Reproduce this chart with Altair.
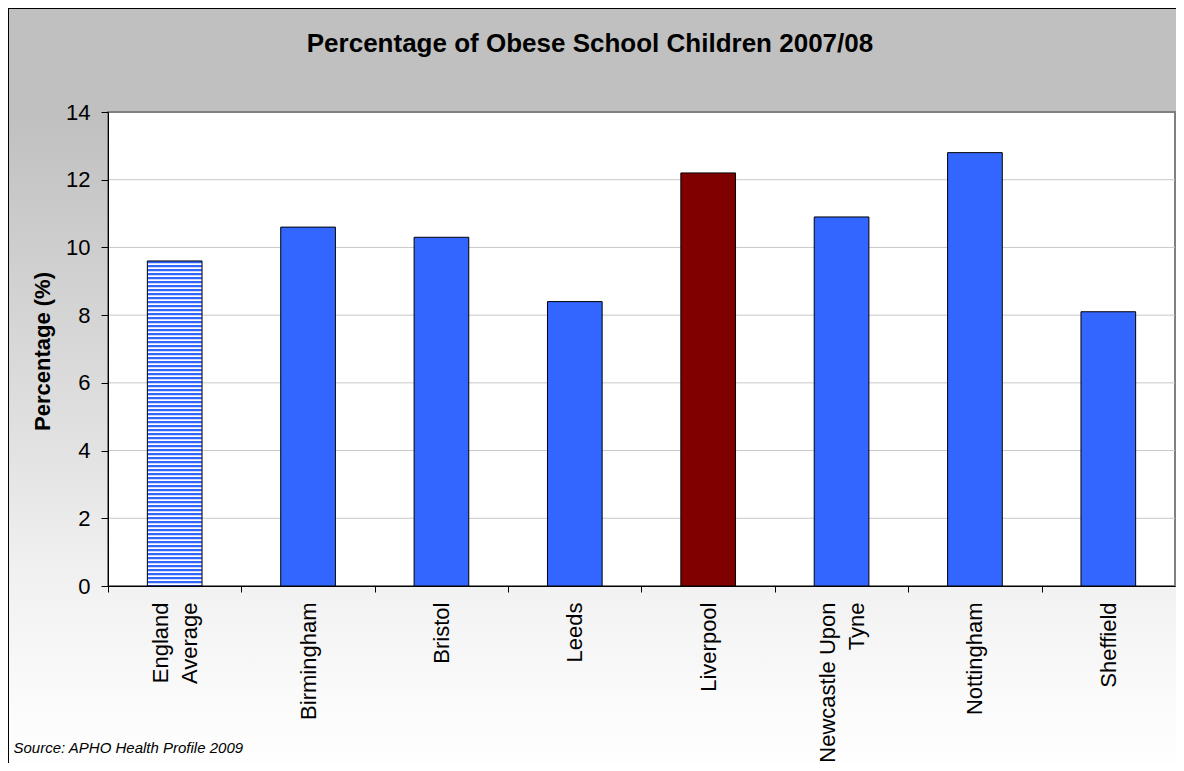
import altair as alt
import pandas as pd

# ---- data ----
areas = ["England Average", "Birmingham", "Bristol", "Leeds", "Liverpool",
         "Newcastle Upon Tyne", "Nottingham", "Sheffield"]
values = [9.6, 10.6, 10.3, 8.4, 12.2, 10.9, 12.8, 8.1]
y_ticks = [0, 2, 4, 6, 8, 10, 12, 14]
grid_values = [2, 4, 6, 8, 10, 12]
highlight = "Liverpool"
benchmark = "England Average"

title_text = "Percentage of Obese School Children 2007/08"
y_title = "Percentage (%)"
source_text = "Source: APHO Health Profile 2009"

FONT = "Liberation Sans"
W, H = 1067, 474
BLUE = "#3366FF"
MAROON = "#800000"
P_INNER = 0.59

df = pd.DataFrame({"Area": areas, "Value": values})
grid_df = pd.DataFrame({"Value": grid_values})

# background gradient (grey top -> white bottom)
bg_grad = alt.LinearGradient(
    gradient="linear", x1=0, x2=0, y1=0, y2=1,
    stops=[
        alt.GradientStop(offset=0.0, color="#c0c0c0"),
        alt.GradientStop(offset=0.14, color="#c0c0c0"),
        alt.GradientStop(offset=0.25, color="#c9c9c9"),
        alt.GradientStop(offset=0.58, color="#e3e3e3"),
        alt.GradientStop(offset=0.72, color="#f0f0f0"),
        alt.GradientStop(offset=0.90, color="#fbfbfb"),
        alt.GradientStop(offset=1.0, color="#ffffff"),
    ],
)

one = alt.Data(values=[{"a": 1}])

background = alt.Chart(one).mark_rect(fill=bg_grad, stroke="black", strokeWidth=2).encode(
    x=alt.value(-100), x2=alt.value(1090), y=alt.value(-104), y2=alt.value(670)
)

plot_bg = alt.Chart(one).mark_rect(fill="white", stroke="#808080", strokeWidth=2).encode(
    x=alt.value(0), x2=alt.value(W), y=alt.value(0), y2=alt.value(H)
)

yscale = alt.Scale(domain=[0, 14], nice=False)
step = W / len(areas)
bandwidth = step * (1 - P_INNER)
line_h = 29

y_axis = alt.Axis(
    values=y_ticks, title=y_title,
    titleFont=FONT, titleFontSize=22, titleFontWeight="bold", titleColor="black",
    titleAngle=270, titleAlign="center", titleBaseline="middle",
    titleX=-66, titleY=239,
    labelFont=FONT, labelFontSize=22, labelColor="black", labelPadding=11,
    tickSize=7, tickColor="black", domainColor="black", domainWidth=1,
    grid=False, zindex=1,
)

grid = alt.Chart(grid_df).mark_rule(color="#c8c8c8", strokeWidth=1).encode(
    y=alt.Y("Value:Q", scale=yscale, axis=y_axis)
)

xscale = alt.Scale(domain=areas, paddingInner=P_INNER, paddingOuter=P_INNER / 2)

x_enc = alt.X(
    "Area:N", scale=xscale, sort=areas,
    axis=alt.Axis(
        title=source_text,
        titleFont=FONT, titleFontSize=15, titleFontStyle="italic", titleFontWeight="normal",
        titleColor="black", titleAlign="left", titleBaseline="alphabetic",
        titleX=-95, titleY=166, titleAngle=0,
        labelAngle=270, labelAlign="right", labelBaseline="middle",
        labelFont=FONT, labelFontSize=22, labelColor="black", labelLimit=400,
        labelLineHeight=line_h,
        labelExpr="datum.label == 'England Average' ? ['England','Average'] : "
                  "datum.label == 'Newcastle Upon Tyne' ? ['Newcastle Upon','Tyne'] : datum.label",
        tickOffset=-step / 2,
        labelOffset={
            "condition": {
                "test": "datum.value == 'England Average' || datum.value == 'Newcastle Upon Tyne'",
                "value": step / 2 - line_h / 2,
            },
            "value": step / 2,
        },
        tickSize=6, tickColor="black", labelPadding=10,
        domainColor="black", domainWidth=1, grid=False, zindex=1,
    ),
)

y_enc = alt.Y("Value:Q", scale=yscale, axis=y_axis)

bars = alt.Chart(df).transform_filter(alt.datum.Area != benchmark).mark_bar(
    stroke="black", strokeWidth=1
).encode(
    x=x_enc, y=y_enc,
    fill=alt.condition(alt.datum.Area == highlight, alt.value(MAROON), alt.value(BLUE)),
)

bench_df = alt.Chart(df).transform_filter(alt.datum.Area == benchmark)

bench_base = bench_df.mark_bar(fill="white", stroke=None).encode(x=x_enc, y=y_enc)

# horizontal stripes: a wide dashed vertical rule filling the bar
bench_stripes = bench_df.mark_rule(
    color=BLUE, strokeWidth=bandwidth, strokeDash=[2.3, 1.7], strokeCap="butt"
).encode(x=x_enc, y=y_enc, y2=alt.datum(0))

bench_outline = bench_df.mark_bar(fillOpacity=0, stroke="black", strokeWidth=1).encode(
    x=x_enc, y=y_enc
)

chart = alt.layer(background, plot_bg, grid, bars, bench_base, bench_stripes, bench_outline).properties(
    width=W, height=H,
    autosize=alt.AutoSizeParams(type="none"),
    padding={"left": 100, "top": 104, "right": 1, "bottom": 177},
    title=alt.TitleParams(
        text=title_text, font=FONT, fontSize=26, fontWeight="bold", color="black",
        anchor="middle", frame="group", dx=-51.5, dy=46, offset=-25, baseline="alphabetic",
    ),
).configure_view(stroke=None).configure(background="white")

chart.save("out.html", embed_options={"renderer": "svg", "actions": False})
